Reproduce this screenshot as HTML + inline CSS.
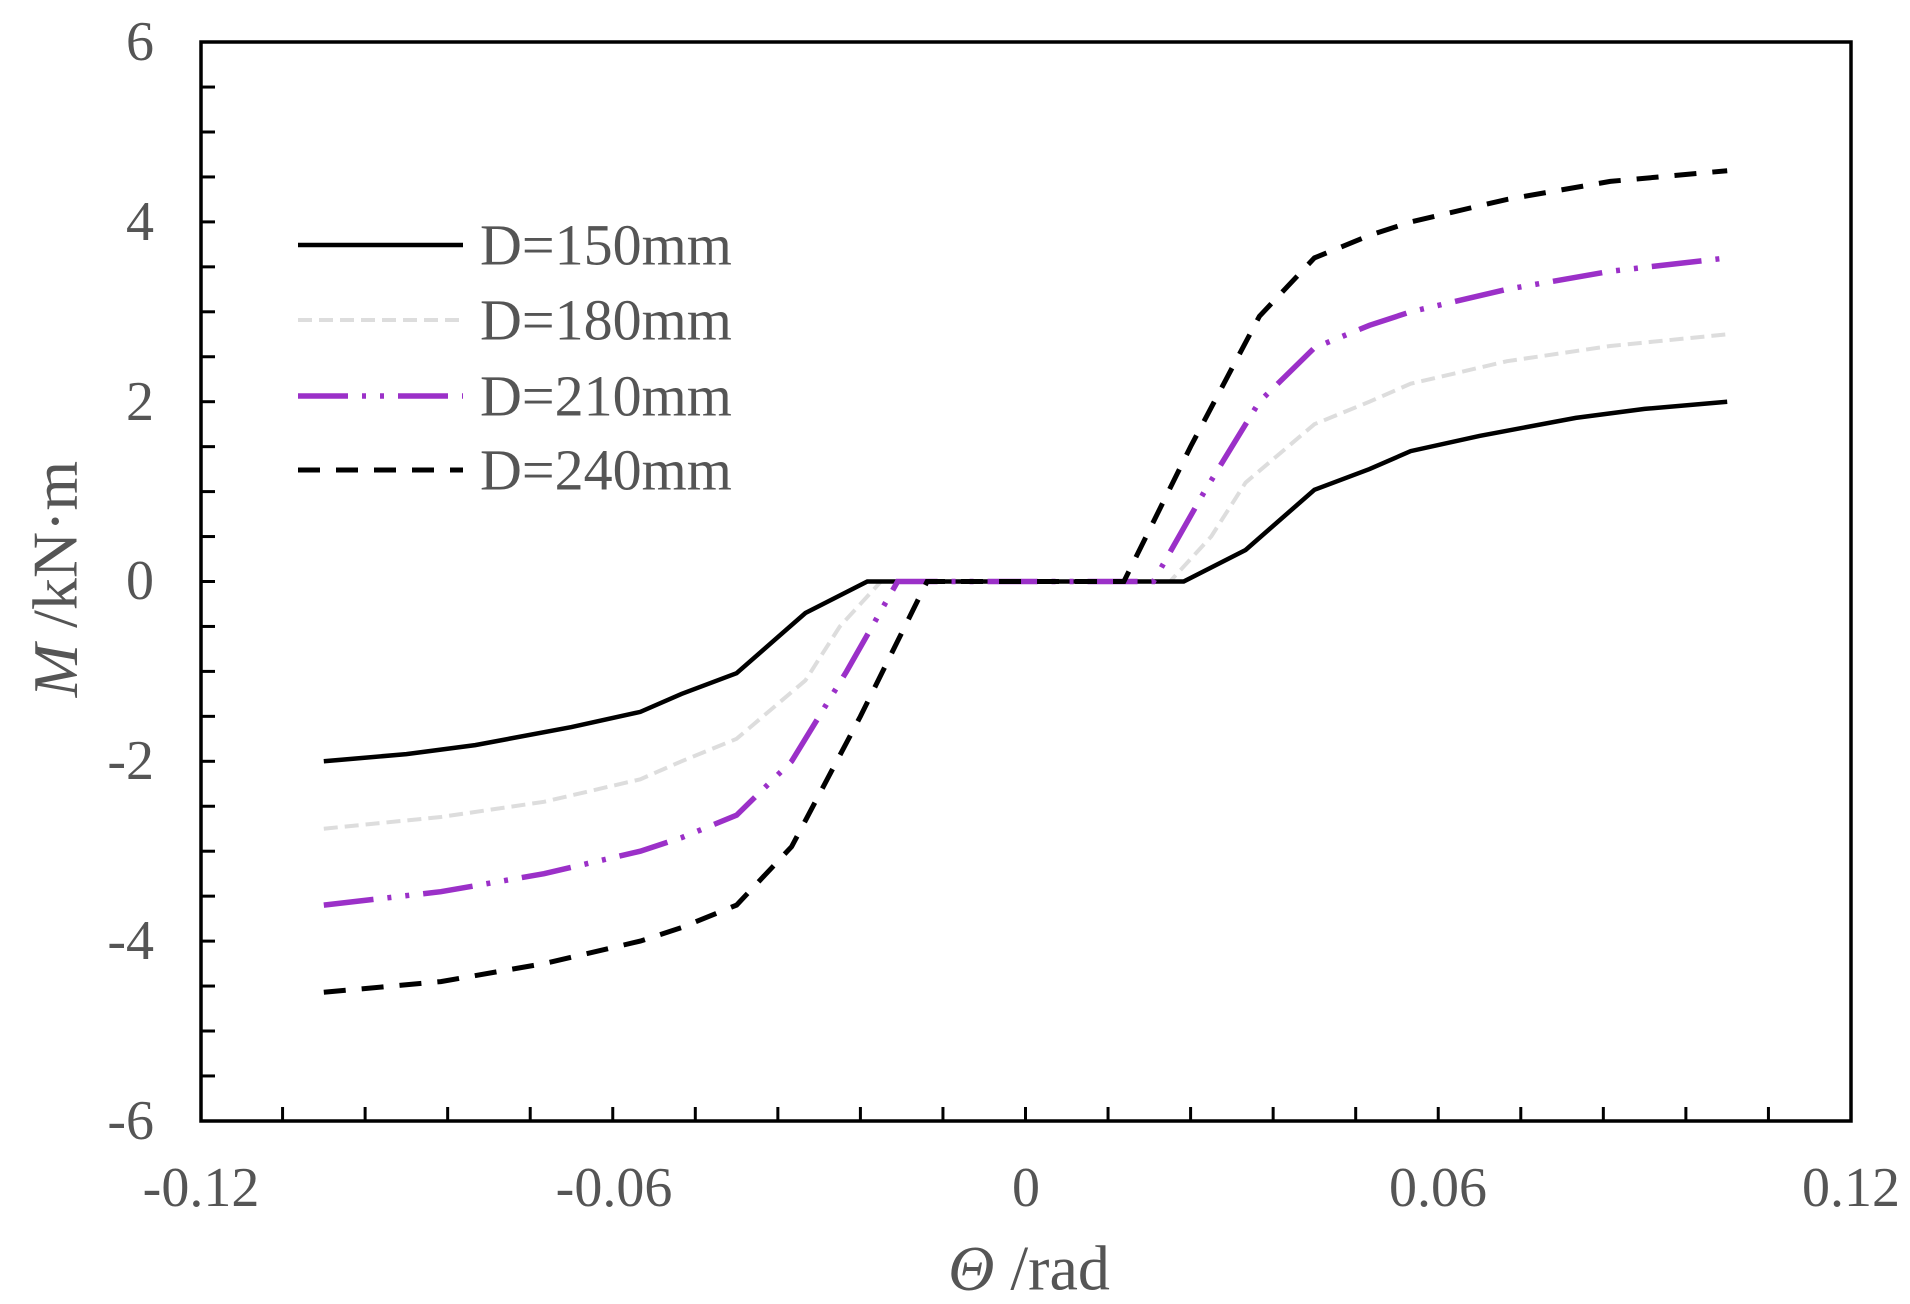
<!DOCTYPE html>
<html><head><meta charset="utf-8"><style>
html,body{margin:0;padding:0;background:#fff;}
svg{display:block;}
text{font-family:"Liberation Serif",serif;fill:#555;}
</style></head><body>
<svg id="s" width="1910" height="1304" viewBox="0 0 1910 1304" xmlns="http://www.w3.org/2000/svg">
<g id="ticks" stroke="#000" stroke-width="3"></g>
<g id="series" fill="none"></g>
<rect x="201" y="42" width="1650" height="1079" fill="none" stroke="#000" stroke-width="3.5"/>
<g font-size="56" text-anchor="end" dominant-baseline="central">
<text x="154" y="42">6</text>
<text x="154" y="222">4</text>
<text x="154" y="402">2</text>
<text x="154" y="581">0</text>
<text x="154" y="761">-2</text>
<text x="154" y="941">-4</text>
<text x="154" y="1121">-6</text>
</g>
<g font-size="56" text-anchor="middle" dominant-baseline="central">
<text x="201" y="1188">-0.12</text>
<text x="614" y="1188">-0.06</text>
<text x="1026" y="1188">0</text>
<text x="1438" y="1188">0.06</text>
<text x="1851" y="1188">0.12</text>
</g>
<text x="1029" y="1268" font-size="64" text-anchor="middle" dominant-baseline="central"><tspan font-style="italic">Θ</tspan> /rad</text>
<text transform="translate(55,579) rotate(-90)" font-size="64" text-anchor="middle" dominant-baseline="central"><tspan font-style="italic">M</tspan> /kN·m</text>
<g font-size="58" dominant-baseline="central">
<text x="480" y="245">D=150mm</text>
<text x="480" y="320">D=180mm</text>
<text x="480" y="396">D=210mm</text>
<text x="480" y="470">D=240mm</text>
</g>
<line x1="298" y1="245" x2="463" y2="245" stroke="#000" stroke-width="4.5"/>
<line x1="298" y1="320" x2="463" y2="320" stroke="#ddd" stroke-width="4" stroke-dasharray="14,7"/>
<line x1="298" y1="396" x2="463" y2="396" stroke="#9b30c8" stroke-width="5.5" stroke-dasharray="50,14,4,14,4,14"/>
<line x1="298" y1="470" x2="463" y2="470" stroke="#000" stroke-width="5" stroke-dasharray="22,16"/>
</svg>
<script>
var NS="http://www.w3.org/2000/svg";
function px(x){return 1025.5+x*6879;}
function py(y){return 581.5-y*89.9;}
var t=document.getElementById('ticks');
function ln(g,a,b,c,d,at){var l=document.createElementNS(NS,'line');l.setAttribute('x1',a);l.setAttribute('y1',b);l.setAttribute('x2',c);l.setAttribute('y2',d);for(var k in at)l.setAttribute(k,at[k]);g.appendChild(l);}
for(var i=1;i<20;i++){var x=px(-0.12+i*0.012);ln(t,x,1121,x,1107,{});}
for(var j=1;j<24;j++){var y=py(-6+j*0.5);ln(t,201,y,215,y,{});}
var pos={
150:[[0.023,0],[0.032,0.35],[0.042,1.02],[0.05,1.25],[0.056,1.45],[0.066,1.62],[0.08,1.82],[0.09,1.92],[0.102,2.0]],
180:[[0.021,0],[0.027,0.5],[0.032,1.1],[0.042,1.75],[0.05,2.0],[0.056,2.2],[0.07,2.45],[0.085,2.62],[0.102,2.75]],
210:[[0.0186,0],[0.026,1.0],[0.034,2.0],[0.042,2.6],[0.05,2.85],[0.056,3.0],[0.07,3.25],[0.085,3.45],[0.102,3.6]],
240:[[0.0143,0],[0.024,1.5],[0.034,2.95],[0.042,3.6],[0.05,3.85],[0.056,4.0],[0.07,4.25],[0.085,4.45],[0.102,4.57]]};
var st={150:{stroke:'#000','stroke-width':4.5},180:{stroke:'#ddd','stroke-width':4,'stroke-dasharray':'14,7'},
210:{stroke:'#9b30c8','stroke-width':5.5,'stroke-dasharray':'50,14,4,14,4,14'},240:{stroke:'#000','stroke-width':5,'stroke-dasharray':'22,16'}};
var g=document.getElementById('series');
[180,150,210,240].forEach(function(k){var p=pos[k],pts=[];
for(var i=p.length-1;i>=0;i--)pts.push([-p[i][0],-p[i][1]]);
for(var i=0;i<p.length;i++)pts.push(p[i]);
var d=pts.map(function(q,i){return (i?'L':'M')+px(q[0]).toFixed(1)+','+py(q[1]).toFixed(1);}).join('');
var e=document.createElementNS(NS,'path');e.setAttribute('d',d);e.setAttribute('fill','none');for(var a in st[k])e.setAttribute(a,st[k][a]);g.appendChild(e);});
</script>
</body></html>
